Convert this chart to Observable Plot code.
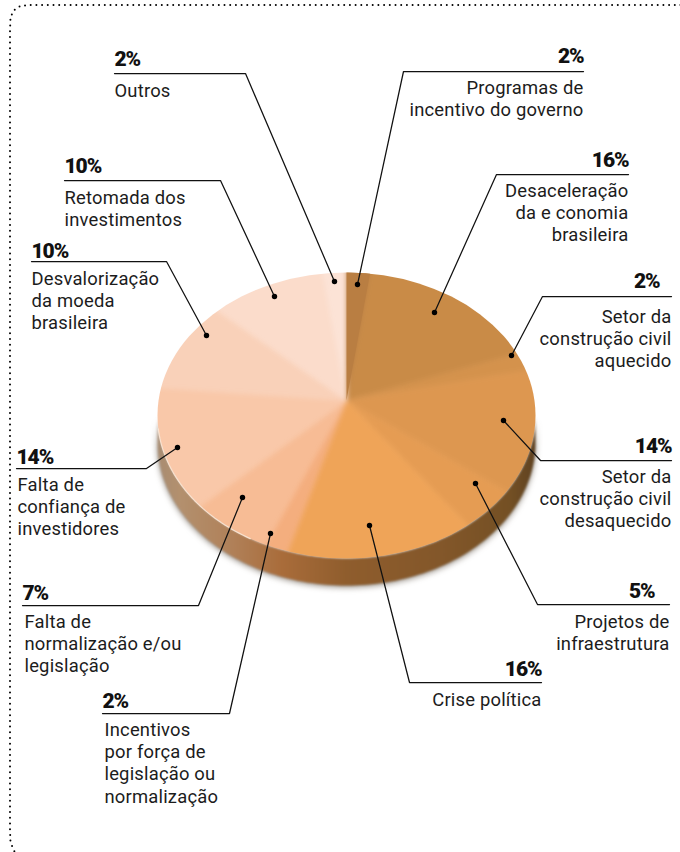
<!DOCTYPE html>
<html lang="pt">
<head>
<meta charset="utf-8">
<script src="https://cdn.jsdelivr.net/npm/d3@7"></script>
<script src="https://cdn.jsdelivr.net/npm/@observablehq/plot@0.6"></script>
<style>
html,body{margin:0;padding:0;background:#fff}
.pieface{filter:blur(2.4px);clip-path:url(#faceClip)}
.pieedge{filter:blur(.5px);clip-path:url(#faceClip)}
.pieshadow{filter:blur(3px)}
.pieside{filter:blur(.8px)}
.valtext text{letter-spacing:-1.1px}
.captext text{letter-spacing:.2px}
</style>
</head>
<body>
<div id="chart"></div>
<script>
// ---- chart values (clockwise from 12 o'clock)
const categories = [
  "Programas de\nincentivo do governo",
  "Desaceleração\nda e conomia\nbrasileira",
  "Setor da\nconstrução civil\naquecido",
  "Setor da\nconstrução civil\ndesaquecido",
  "Projetos de\ninfraestrutura",
  "Crise política",
  "Incentivos\npor força de\nlegislação ou\nnormalização",
  "Falta de\nnormalização e/ou\nlegislação",
  "Falta de\nconfiança de\ninvestidores",
  "Desvalorização\nda moeda\nbrasileira",
  "Retomada dos\ninvestimentos",
  "Outros"
];
const values = [2, 16, 2, 14, 5, 16, 2, 7, 14, 10, 10, 2];
const sliceColors = ["#b97e42","#c98b47","#d4924c","#dd9750","#e59c53","#efa458","#f4ae7e","#f7bc95","#f9c8a9","#f9d1b9","#fbdccb","#fce3d6"];

// ---- annotation layout (dot, elbow, rule end, value baseline, value right/left, text x, first baseline)
const leaderDotX  = [357,434,511,503,475,369,270,242,177,206,274,334];
const leaderDotY  = [284,312,355,420,483,525,533,497,447,335,296,281];
const elbowX      = [403,496,542,540,537,409,229,198,146,166,220,245];
const ruleY       = [71,174,296,460,604,682,713,605,468,261,180,73];
const ruleEndX    = [583,628,671,671,669,541,102,22,16,31,64,114];
const valueX      = [583,628,659,671,654,541,102,22,16,31,64,114];
const valueBase   = [62,166,287,452,597,675,707,599,463,257,172,65];
const textX       = [583,628,671,671,669,541,104,24,17,31,64,114];
const textBase    = [93,196,322,482,627,705,735,627,490,284,203,96];
const textAnchors = ["end","end","end","end","end","end","start","start","start","start","start","start"];
const lineStep = 22.4;

// ---- pie geometry, in the page's own units
const cx = 346, cy = 415, rx = 189, ry = 143, apexY = 400, depth = 27;
const rim = (t, dy = 0, s = 1) => [cx + s * rx * Math.sin(t), cy - s * ry * Math.cos(t) + dy];

const arcs = d3.pie().sort(null)(values);
// the face is drawn slightly oversized, softened, then clipped back to the rim
const slices = arcs.flatMap((a, i) => {
  const n = Math.max(4, Math.ceil((a.endAngle - a.startAngle) * 40));
  const pts = [{slice: i, x: cx, y: apexY}];
  for (let k = 0; k <= n; ++k) {
    const [x, y] = rim(a.startAngle + (a.endAngle - a.startAngle) * k / n, 0, 1.06);
    pts.push({slice: i, x, y});
  }
  pts.push({slice: i, x: cx, y: apexY});
  return pts;
});

// side wall: the lower half of the rim, and the same rim pushed down
const sideTop = d3.range(0, 121).map(k => Math.PI / 2 + Math.PI * k / 120);
const side = [
  ...sideTop.map(t => { const [x, y] = rim(t); return {x, y}; }),
  ...sideTop.slice().reverse().map(t => { const [x, y] = rim(t, depth); return {x, y}; })
];
const rimLight = d3.range(0, 41).map(k => {
  const [x, y] = rim(Math.PI * 1.47 - Math.PI * 0.3 * k / 40);
  return {x, y};
});

// rows for the text and leaders
const rows = categories.map((c, i) => ({i, c}));
const textRows = rows.flatMap(({i, c}) => c.split("\n").map((line, k) => ({
  line, anchor: textAnchors[i], x: textX[i], y: textBase[i] + k * lineStep
})));
const leaders = rows.flatMap(({i}) => [
  {i, x: ruleEndX[i], y: ruleY[i]},
  {i, x: elbowX[i], y: ruleY[i]},
  {i, x: leaderDotX[i], y: leaderDotY[i]}
]);
const dots = rows.map(({i}) => ({x: leaderDotX[i], y: leaderDotY[i]}));
const valueRows = values.map((v, i) => ({
  label: v + "%", x: valueX[i], y: valueBase[i], anchor: textAnchors[i]
}));

// dotted frame, open on the right and at the bottom
const frame = [[680,4.5],[30,4.5],[20,5.5],[13,10],[10,17],[9.5,30],[9.5,830],[10,842],[14,851]]
  .map(([x, y]) => ({x, y}));

const defs = () => {
  const ns = "http://www.w3.org/2000/svg";
  const d = document.createElementNS(ns, "defs");
  d.innerHTML = `<linearGradient id="sideGrad" x1="0" x2="1" y1="0" y2="0">
    <stop offset="0" stop-color="#a88c72"/>
    <stop offset="0.06" stop-color="#b3906e"/>
    <stop offset="0.2" stop-color="#b08058"/>
    <stop offset="0.33" stop-color="#a96c3a"/>
    <stop offset="0.5" stop-color="#8f5d2d"/>
    <stop offset="0.75" stop-color="#83572a"/>
    <stop offset="0.93" stop-color="#745024"/>
    <stop offset="1" stop-color="#5f4221"/>
  </linearGradient>
  <clipPath id="faceClip" clipPathUnits="userSpaceOnUse"><ellipse cx="${cx}" cy="${cy}" rx="${rx}" ry="${ry}"/></clipPath>`;
  return d;
};

const font = "Roboto, 'Liberation Sans', sans-serif";
const chart = Plot.plot({
  width: 680,
  height: 852,
  margin: 0,
  style: {background: "#fff", fontFamily: font},
  x: {domain: [0, 680], range: [0, 680], axis: null},
  y: {domain: [0, 852], range: [0, 852], axis: null},
  marks: [
    defs,
    // soft shadow below the wall
    Plot.line(side, {x: "x", y: d => d.y + 1.5, fill: "#55483a", fillOpacity: 0.65, stroke: "none", className: "pieshadow"}),
    Plot.line(side, {x: "x", y: "y", fill: "url(#sideGrad)", stroke: "none", className: "pieside"}),
    Plot.line(slices, {x: "x", y: "y", z: "slice", fill: d => sliceColors[d.slice], stroke: d => sliceColors[d.slice], strokeWidth: 0.5, className: "pieface"}),
    // the first slice keeps a crisp edge against the pale last slice at 12 o'clock
    Plot.line(slices.filter(d => d.slice === 0), {x: "x", y: "y", fill: sliceColors[0], stroke: "none", className: "pieedge"}),
    Plot.line(rimLight, {x: "x", y: "y", stroke: "#fbe6d4", strokeWidth: 1.2, strokeOpacity: 0.9}),
    // frame
    Plot.line(frame, {x: "x", y: "y", stroke: "#000", strokeWidth: 2, strokeLinecap: "round", strokeDasharray: "0 5.7", curve: "linear"}),
    // leaders
    Plot.line(leaders, {x: "x", y: "y", z: "i", stroke: "#111", strokeWidth: 1.25, strokeLinejoin: "miter"}),
    Plot.dot(dots, {x: "x", y: "y", r: 2.7, fill: "#000", stroke: "none"}),
    // labels
    Plot.text(valueRows, {x: "x", y: "y", text: "label", textAnchor: "start", lineAnchor: "bottom", filter: d => d.anchor === "start", fontSize: 21, fontWeight: 900, fill: "#111", className: "valtext"}),
    Plot.text(valueRows, {x: "x", y: "y", text: "label", textAnchor: "end", lineAnchor: "bottom", filter: d => d.anchor === "end", fontSize: 21, fontWeight: 900, fill: "#111", className: "valtext"}),
    Plot.text(textRows, {x: "x", y: "y", text: "line", textAnchor: "start", lineAnchor: "bottom", filter: d => d.anchor === "start", fontSize: 18.4, fill: "#1c1c1c", className: "captext"}),
    Plot.text(textRows, {x: "x", y: "y", text: "line", textAnchor: "end", lineAnchor: "bottom", filter: d => d.anchor === "end", fontSize: 18.4, fill: "#1c1c1c", className: "captext"})
  ]
});
document.getElementById("chart").append(chart);
</script>
</body>
</html>
